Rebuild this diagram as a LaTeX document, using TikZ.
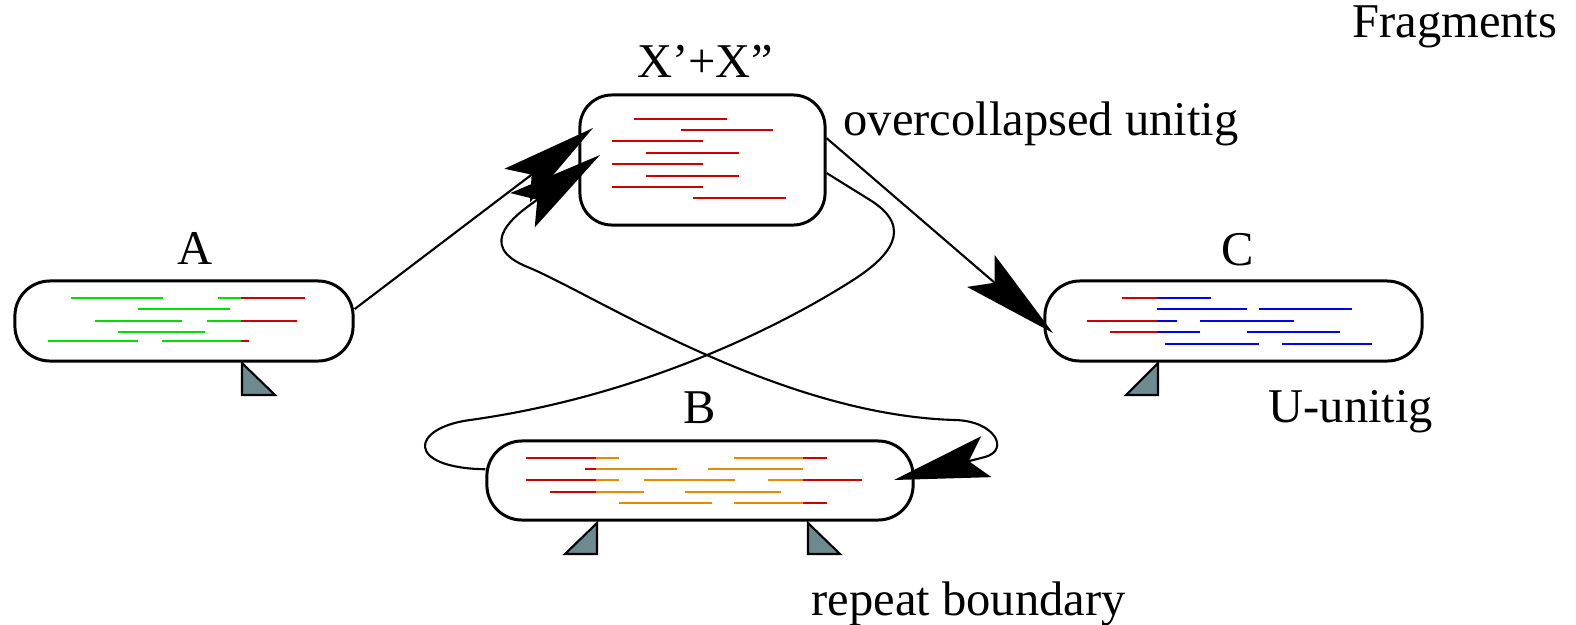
\documentclass[tikz,border=0pt]{standalone}
\usepackage{fontspec}
\setmainfont{Liberation Serif}[Ligatures=ResetAll]
\usetikzlibrary{arrows.meta}
\definecolor{fraggreen}{RGB}{0,221,0}
\definecolor{fragred}{RGB}{204,0,0}
\definecolor{fragblue}{RGB}{0,0,235}
\definecolor{fragorange}{RGB}{230,138,0}
\definecolor{slate}{RGB}{110,138,145}
\begin{document}
\begin{tikzpicture}[x=0.01cm, y=-0.01cm,
    dart/.tip={Stealth[length=9.5mm, width=4.2mm, inset=1.8mm]},
    unitig/.style={draw, line width=0.85pt, rounded corners=0.35cm, inner sep=0pt},
    lbl/.style={font=\rmfamily\fontsize{13.8}{16}\selectfont, inner sep=0pt},
    frag/.style={line width=0.8pt},
    link/.style={line width=0.6pt, -dart},
    boundary/.style={draw, line width=0.6pt, fill=slate}]
  \useasboundingbox (0,0) rectangle (1576,624);

  \node[unitig, minimum width=3.38cm, minimum height=0.80cm] (A) at (184,321) {};
  \node[unitig, minimum width=2.45cm, minimum height=1.30cm, rounded corners=0.32cm] (X) at (702.5,160) {};
  \node[unitig, minimum width=3.77cm, minimum height=0.80cm] (C) at (1233.5,321) {};
  \node[unitig, minimum width=4.26cm, minimum height=0.79cm] (B) at (700,480.5) {};

  \node[lbl, anchor=base] (labA) at (195,264) {A};
  \node[lbl, anchor=base] (labX) at (705,77) {X’+X"};
  \node[lbl, anchor=base] (labB) at (700,423) {B};
  \node[lbl, anchor=base] (labC) at (1238,265) {C};
  \node[lbl, anchor=base west] (over) at (843,135) {overcollapsed unitig};
  \node[lbl, anchor=base west] (uuni) at (1268,422) {U-unitig};
  \node[lbl, anchor=base west] (rep) at (811,615) {repeat boundary};
  \node[lbl, anchor=base east] (frags) at (1558,37) {Fragments};

  % fragments
  \foreach \y/\xa/\xb/\col in {298/71/163/fraggreen, 298/218/241/fraggreen, 298/241/305/fragred,
      309/138/230/fraggreen, 321/95/182/fraggreen, 321/207/241/fraggreen, 321/241/297/fragred,
      332/118/205/fraggreen, 341/48/138/fraggreen, 341/162/241/fraggreen, 341/241/249/fragred}
    \draw[frag, \col] (\xa,\y) -- (\xb,\y);
  \foreach \y/\xa/\xb in {119/634/727, 130/681/773, 141/612/703, 153/646/739,
      164/612/703, 176/646/739, 187/612/703, 198/693/786}
    \draw[frag, fragred] (\xa,\y) -- (\xb,\y);
  \foreach \y/\xa/\xb/\col in {298/1122/1157/fragred, 298/1157/1211/fragblue,
      309/1157/1247/fragblue, 309/1259/1352/fragblue,
      321/1087/1157/fragred, 321/1157/1177/fragblue, 321/1200/1294/fragblue,
      332/1110/1157/fragred, 332/1157/1200/fragblue, 332/1247/1340/fragblue,
      344/1165/1259/fragblue, 344/1282/1372/fragblue}
    \draw[frag, \col] (\xa,\y) -- (\xb,\y);
  \foreach \y/\xa/\xb/\col in {458/526/596/fragred, 458/596/619/fragorange, 458/734/803/fragorange, 458/803/827/fragred,
      469/585/596/fragred, 469/596/677/fragorange, 469/708/803/fragorange,
      480/526/596/fragred, 480/596/619/fragorange, 480/644/735/fragorange, 480/768/803/fragorange, 480/803/862/fragred,
      492/550/596/fragred, 492/596/644/fragorange, 492/685/781/fragorange,
      503/619/712/fragorange, 503/734/803/fragorange, 503/803/827/fragred}
    \draw[frag, \col] (\xa,\y) -- (\xb,\y);

  % repeat boundaries
  \draw[boundary] (242,363) -- (242,395) -- (275,395) -- cycle;
  \draw[boundary] (1158,363) -- (1158,395) -- (1126,395) -- cycle;
  \draw[boundary] (597,523) -- (597,554) -- (565,554) -- cycle;
  \draw[boundary] (808,523) -- (808,554) -- (840,554) -- cycle;

  \coordinate (xin1) at (593,128);
  \coordinate (xin2) at (600,155);
  \coordinate (cin) at (1053,333);
  \coordinate (bin) at (894,480);

  \draw[link] (A.4) -- (xin1);
  \draw[link] (X.10) -- (cin);
  \draw[line width=0.6pt] (X.-6) -- (870,200) .. controls (915,228) and (890,257) .. (850,282)
    .. controls (790,320) and (650,395) .. (470,420) .. controls (410,428) and (405,468) .. (B.177);
  \draw[link, dart-dart] (xin2) .. controls (520,212) and (470,245) .. (530,268)
    .. controls (600,298) and (780,415) .. (955,420)
    .. controls (995,421) and (1010,450) .. (985,457) -- (bin);
\end{tikzpicture}
\end{document}
